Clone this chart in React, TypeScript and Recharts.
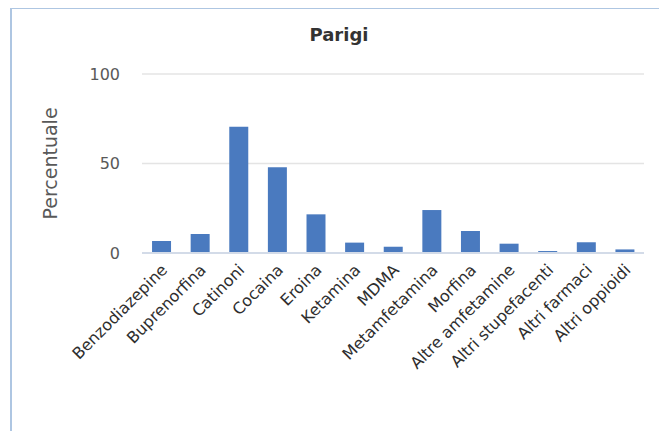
import { BarChart, Bar, XAxis, YAxis, CartesianGrid } from "recharts";

const categories = [
  "Benzodiazepine",
  "Buprenorfina",
  "Catinoni",
  "Cocaina",
  "Eroina",
  "Ketamina",
  "MDMA",
  "Metamfetamina",
  "Morfina",
  "Altre amfetamine",
  "Altri stupefacenti",
  "Altri farmaci",
  "Altri oppioidi",
];
const percentages = [6.7, 10.6, 70.6, 47.9, 21.6, 5.8, 3.5, 24, 12.3, 5.2, 1.1, 6, 2];
const yTicks = [0, 50, 100];

const data = categories.map((name, i) => ({ name, value: percentages[i] }));

const FONT = "'DejaVu Sans', sans-serif";

const CategoryTick = ({ x, y, payload }: any) => (
  <g transform={`translate(${x + 3},${y + 6}) rotate(-45)`}>
    <text textAnchor="end" dy="0.35em" fontFamily={FONT} fontSize={16} fill="#2e2e2e">
      {payload.value}
    </text>
  </g>
);

const AxisTitle = ({ viewBox }: any) => {
  const cx = viewBox.x - 32;
  const cy = viewBox.y + viewBox.height / 2;
  return (
    <text
      x={cx}
      y={cy}
      transform={`rotate(-90, ${cx}, ${cy})`}
      textAnchor="middle"
      dominantBaseline="central"
      fontFamily={FONT}
      fontSize={19}
      fill="#595959"
    >
      Percentuale
    </text>
  );
};

export default function App() {
  return (
    <div
      style={{
        position: "relative",
        margin: "-1px 0 0 2px",
        width: 650,
        height: 422,
        border: "2px solid #aec6e2",
        borderBottom: "none",
        background: "#fff",
      }}
    >
      <div
        style={{
          position: "absolute",
          top: 15,
          left: 0,
          width: 654,
          textAlign: "center",
          fontFamily: FONT,
          fontWeight: "bold",
          fontSize: 18,
          color: "#333333",
        }}
      >
        Parigi
      </div>
      <BarChart
        width={650}
        height={422}
        data={data}
        margin={{ top: 65, right: 18, bottom: 0, left: 70 }}
        barCategoryGap="26%"
      >
        <CartesianGrid vertical={false} stroke="#e4e4e4" strokeWidth={1.5} />
        <XAxis
          dataKey="name"
          interval={0}
          height={178}
          tickLine={false}
          axisLine={{ stroke: "#d3dbe8", strokeWidth: 2 }}
          tick={<CategoryTick />}
        />
        <YAxis
          width={60}
          domain={[0, 100]}
          ticks={yTicks}
          tickLine={false}
          axisLine={false}
          tickMargin={16}
          tick={{ fontFamily: FONT, fontSize: 16, fill: "#595959" }}
          label={{ content: <AxisTitle /> }}
        />
        <Bar dataKey="value" fill="#4a7abf" isAnimationActive={false} />
      </BarChart>
    </div>
  );
}
